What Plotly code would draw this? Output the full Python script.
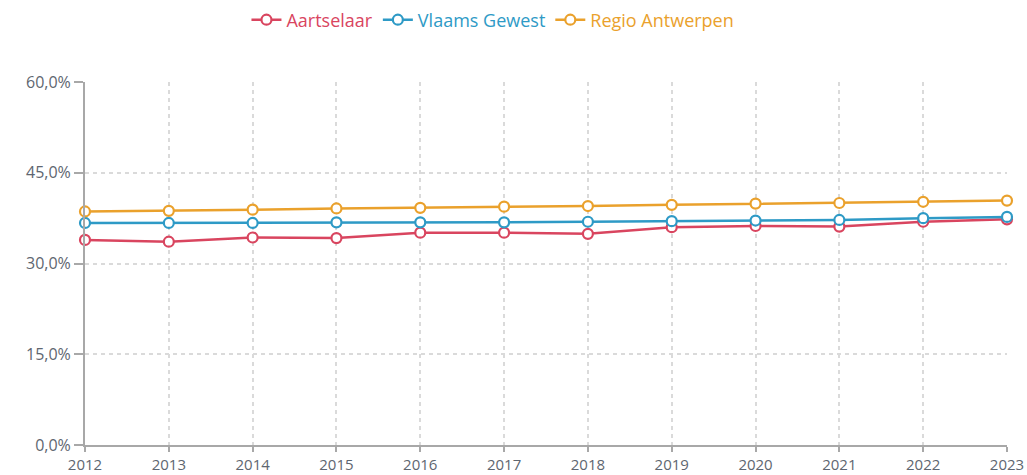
import plotly.graph_objects as go

years = [2012, 2013, 2014, 2015, 2016, 2017, 2018, 2019, 2020, 2021, 2022, 2023]
aartselaar = [33.9, 33.6, 34.3, 34.2, 35.1, 35.1, 34.9, 36.0, 36.2, 36.1, 36.9, 37.3]
vlaams_gewest = [36.7, 36.7, 36.7, 36.8, 36.8, 36.8, 36.9, 37.0, 37.1, 37.2, 37.5, 37.7]
regio_antwerpen = [38.6, 38.7, 38.9, 39.1, 39.2, 39.4, 39.5, 39.7, 39.9, 40.0, 40.2, 40.4]

series = [
    ("Aartselaar", aartselaar, "#d9455f"),
    ("Vlaams Gewest", vlaams_gewest, "#2e9ac6"),
    ("Regio Antwerpen", regio_antwerpen, "#eaa12c"),
]

fig = go.Figure()
for name, vals, color in series:
    fig.add_trace(go.Scatter(
        x=years, y=vals, mode="lines+markers",
        name=f"<span style='color:{color}'>{name}</span>",
        line=dict(color=color, width=2.5),
        marker=dict(symbol="circle", size=10, color="white",
                    line=dict(color=color, width=2.2)),
        cliponaxis=False,
    ))

grid = dict(showgrid=True, gridcolor="#dadada", griddash="4px,4px", gridwidth=2,
            showline=True, linecolor="#a8a8a8", linewidth=2,
            ticks="outside", tickcolor="#a8a8a8", tickwidth=2,
            zeroline=False, automargin=False)

fig.update_layout(
    width=1027, height=475,
    margin=dict(l=85, r=20, t=82, b=30),
    paper_bgcolor="white", plot_bgcolor="white",
    font=dict(family="Open Sans, Noto Sans, sans-serif", size=16, color="#5e6670"),
    separators=",.",
    showlegend=True,
    legend=dict(orientation="h", x=0.48, xref="container", xanchor="center",
                y=1 - 20 / 475, yref="container", yanchor="middle",
                font=dict(size=18), itemwidth=30, tracegroupgap=0),
    xaxis=dict(range=[2012, 2023], tickmode="array", tickvals=years, ticklen=5,
               ticklabelstandoff=0, tickfont=dict(size=15, color="#5e6670"), **grid),
    yaxis=dict(range=[0, 60], dtick=15, tick0=0, tickformat=".1f", ticksuffix="%",
               ticklen=9, tickfont=dict(size=16, color="#5e6670"), **grid),
)

fig.write_html("out.html")
